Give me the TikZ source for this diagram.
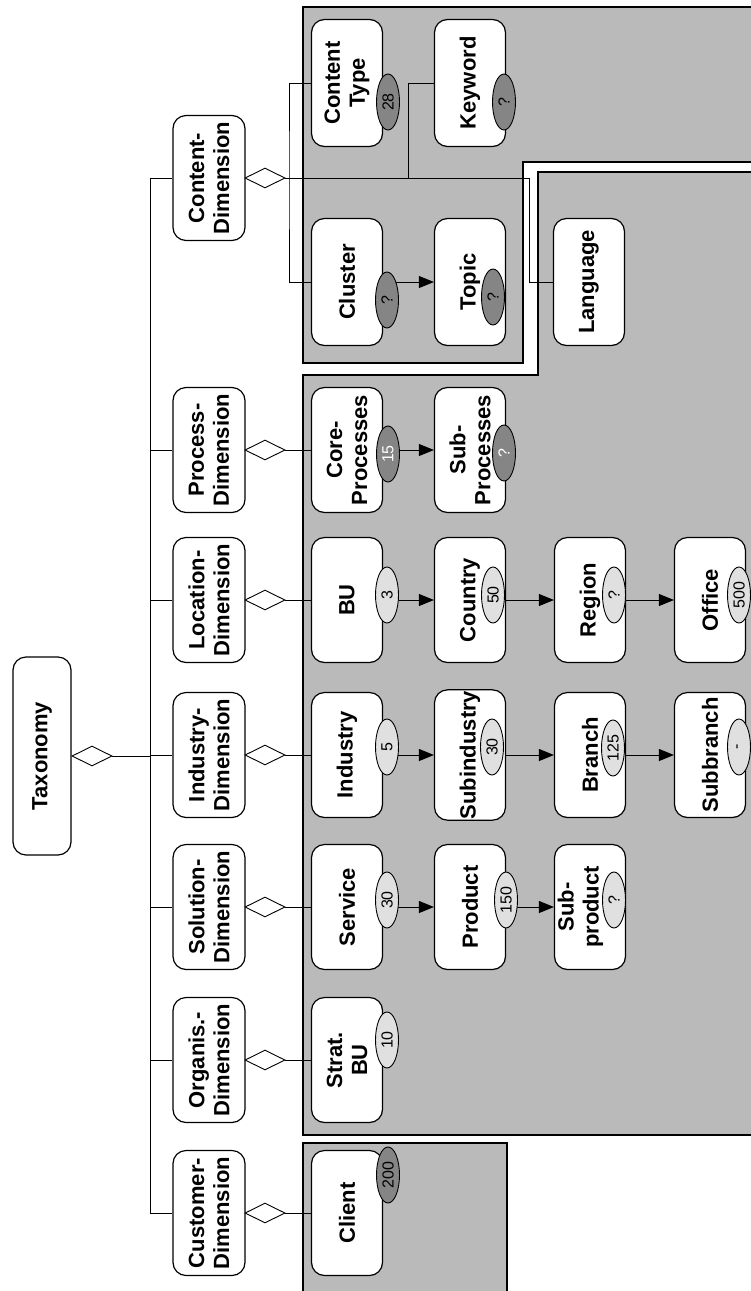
\documentclass[tikz,border=0pt]{standalone}
\usepackage{fontspec}
\setmainfont{Liberation Sans}
\usetikzlibrary{shapes.geometric,arrows.meta}

\tikzset{
  box/.style={draw, fill=white, rounded corners=13pt, rotate=90, align=center,
    minimum width=125pt, minimum height=71pt, inner sep=1pt, line width=1.2pt,
    font=\bfseries\fontsize{22}{25}\selectfont},
  agg/.style={draw, fill=white, diamond, aspect=2, minimum width=40pt,
    minimum height=20pt, inner sep=0pt},
  badge/.style={draw, ellipse, rotate=90, minimum width=56pt, minimum height=23pt,
    inner sep=0pt, font=\fontsize{16}{16}\selectfont},
  lite/.style={badge, fill=black!12},
  dark/.style={badge, fill=black!48},
  arr/.style={-{Triangle[length=15pt,width=12pt]}},
  panel/.style={draw, fill=black!27, line width=1.2pt}
}

\begin{document}
\begin{tikzpicture}[x=1pt, y=-1pt, line width=0.9pt]
  \useasboundingbox (0,0) rectangle (750,1291);

  % shaded areas
  \draw[panel] (303,7) -- (760,7) -- (760,162) -- (523,162) -- (523,363) -- (303,363) -- cycle;
  \draw[panel] (303,375) -- (538,375) -- (538,172) -- (760,172) -- (760,1135) -- (303,1135) -- cycle;
  \draw[panel] (303,1143) -- (507,1143) -- (507,1300) -- (303,1300) -- cycle;

  % root
  \node[box, minimum width=198pt, minimum height=58pt] (tax) at (42,756) {Taxonomy};
  \node[agg] (tdg) at (92,756) {};

  % dimensions
  \node[box, minimum height=72pt] (dCo) at (209,178) {Content-\\Dimension};
  \node[box, minimum height=72pt] (dPr) at (209,450) {Process-\\Dimension};
  \node[box, minimum height=72pt] (dLo) at (209,600) {Location-\\Dimension};
  \node[box, minimum height=72pt] (dIn) at (209,755) {Industry-\\Dimension};
  \node[box, minimum height=72pt] (dSo) at (209,907) {Solution-\\Dimension};
  \node[box, minimum height=72pt] (dOr) at (209,1060) {Organis.-\\Dimension};
  \node[box, minimum height=72pt] (dCu) at (209,1213) {Customer-\\Dimension};
  \node[agg] (gCo) at (265,178) {};
  \node[agg] (gPr) at (265,450) {};
  \node[agg] (gLo) at (265,600) {};
  \node[agg] (gIn) at (265,755) {};
  \node[agg] (gSo) at (265,907) {};
  \node[agg] (gOr) at (265,1060) {};
  \node[agg] (gCu) at (265,1213) {};

  % content
  \node[box, minimum width=127pt] (ctype) at (347,83) {Content\\Type};
  \node[box, minimum width=127pt] (keyword) at (470,83) {Keyword};
  \node[box, minimum width=127pt] (cluster) at (347,282) {Cluster};
  \node[box, minimum width=127pt] (topic) at (470,282) {Topic};
  \node[box, minimum width=127pt] (language) at (589,282) {Language};

  % processes
  \node[box] (core) at (347,450) {Core-\\Processes};
  \node[box] (subproc) at (470,450) {Sub-\\Processes};

  % location
  \node[box] (bu) at (347,600) {BU};
  \node[box] (country) at (470,600) {Country};
  \node[box] (region) at (590,600) {Region};
  \node[box] (office) at (710,600) {Office};

  % industry
  \node[box] (industry) at (347,755) {Industry};
  \node[box] (subind) at (470,755) {Subindustry};
  \node[box] (branch) at (590,755) {Branch};
  \node[box] (subbranch) at (710,755) {Subbranch};

  % solution
  \node[box] (service) at (347,907) {Service};
  \node[box] (product) at (470,907) {Product};
  \node[box] (subprod) at (590,907)
    {\raisebox{9pt}[\height][\depth]{\begin{tabular}{@{}c@{}}Sub-\\product\end{tabular}}};

  % organisation, customer
  \node[box] (stratbu) at (347,1060) {Strat.\\BU};
  \node[box] (client) at (347,1213) {Client};

  % trunk
  \coordinate (trunk) at (150,0);
  \draw (tdg.east) -- (tdg.east -| trunk);
  \draw (dCo.north -| trunk) -- (dCu.north -| trunk);
  \foreach \dm in {dCo,dPr,dLo,dIn,dSo,dOr,dCu}
    \draw (\dm.north) -- (\dm.north -| trunk);

  % dimension links
  \coordinate (fork1) at (289,178);
  \coordinate (fork2) at (408,178);
  \coordinate (bend) at (529,178);
  \draw (gCo.east) -- (bend) |- (language.north);
  \draw (ctype.north) -| (fork1) |- (cluster.north);
  \draw (fork2) |- (keyword.north);
  \draw (gPr.east) -- (core.north);
  \draw (gLo.east) -- (bu.north);
  \draw (gIn.east) -- (industry.north);
  \draw (gSo.east) -- (service.north);
  \draw (gOr.east) -- (stratbu.north);
  \draw (gCu.east) -- (client.north);

  % refinements
  \draw[arr] (cluster.south) -- (topic.north);
  \draw[arr] (core.south) -- (subproc.north);
  \draw[arr] (bu.south) -- (country.north);
  \draw[arr] (country.south) -- (region.north);
  \draw[arr] (region.south) -- (office.north);
  \draw[arr] (industry.south) -- (subind.north);
  \draw[arr] (subind.south) -- (branch.north);
  \draw[arr] (branch.south) -- (subbranch.north);
  \draw[arr] (service.south) -- (product.north);
  \draw[arr] (product.south) -- (subprod.north);

  % counts
  \node[dark] (nctype) at (388,102) {28};
  \node[dark] (nkeyword) at (504,102) {?};
  \node[dark] (ncluster) at (387,300) {?};
  \node[dark] (ntopic) at (493,297) {?};
  \node[dark, text=white] (ncore) at (388,454) {15};
  \node[dark, text=white] (nsubproc) at (504,453) {?};
  \node[lite] (nbu) at (387,595) {3};
  \node[lite] (ncountry) at (493,595) {50};
  \node[lite] (nregion) at (614,595) {?};
  \node[lite] (noffice) at (739,595) {500};
  \node[lite] (nindustry) at (387,747) {5};
  \node[lite] (nsubind) at (492,747) {30};
  \node[lite] (nbranch) at (613,748) {125};
  \node[lite] (nsubbranch) at (739,747) {-};
  \node[lite] (nservice) at (387,900) {30};
  \node[lite] (nproduct) at (506,900) {150};
  \node[lite] (nsubprod) at (614,900) {?};
  \node[lite] (nstratbu) at (387,1040) {10};
  \node[dark] (nclient) at (388,1175) {200};
\end{tikzpicture}
\end{document}
